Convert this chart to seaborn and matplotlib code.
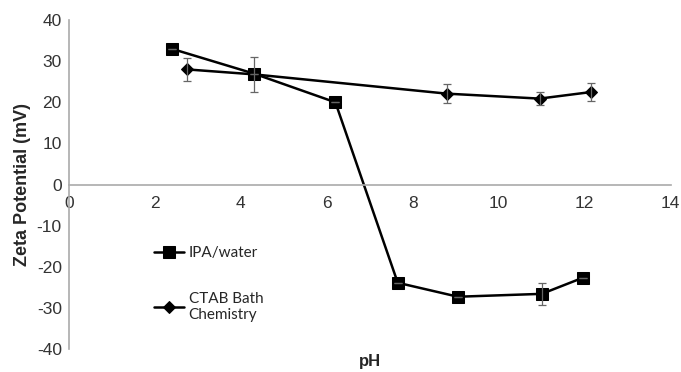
import matplotlib
matplotlib.use("Agg")
import matplotlib.pyplot as plt
import seaborn as sns
import pandas as pd

# IPA/water series
ipa_ph = [2.4, 4.3, 6.2, 7.65, 9.05, 11.0, 11.95]
ipa_zeta = [33.0, 27.0, 20.0, -23.9, -27.3, -26.6, -22.7]
ipa_err = [0, 0, 0, 0, 0, 2.7, 0]

# CTAB bath chemistry series
ctab_ph = [2.75, 4.3, 8.8, 10.95, 12.15]
ctab_zeta = [28.0, 26.8, 22.1, 20.9, 22.5]
ctab_err = [2.7, 4.2, 2.3, 1.5, 2.1]

x_ticks = [0, 2, 4, 6, 8, 10, 12, 14]
y_ticks = [-40, -30, -20, -10, 0, 10, 20, 30, 40]

df_ipa = pd.DataFrame({"pH": ipa_ph, "zeta": ipa_zeta})
df_ctab = pd.DataFrame({"pH": ctab_ph, "zeta": ctab_zeta})

sns.set_style("white")
plt.rcParams['font.family'] = ['Liberation Sans', 'DejaVu Sans']
plt.rcParams['axes.unicode_minus'] = False

fig = plt.figure(figsize=(6.81, 3.72), dpi=100)
ax = fig.add_axes([0.101, 0.062, 0.884, 0.884])

sns.lineplot(data=df_ipa, x="pH", y="zeta", ax=ax, color="black", marker="s",
             markersize=8, linewidth=1.8, markeredgecolor="black",
             label="IPA/water", sort=False)
sns.lineplot(data=df_ctab, x="pH", y="zeta", ax=ax, color="black", marker="D",
             markersize=6, linewidth=1.8, markeredgecolor="black",
             label="CTAB Bath\nChemistry", sort=False)

ax.errorbar(ipa_ph, ipa_zeta, yerr=ipa_err, fmt="none", ecolor="#666666",
            elinewidth=0.9, capsize=3, capthick=0.9)
ax.errorbar(ctab_ph, ctab_zeta, yerr=ctab_err, fmt="none", ecolor="#666666",
            elinewidth=0.9, capsize=3, capthick=0.9)

ax.set_xlim(0, 14)
ax.set_ylim(-40, 40)
ax.set_xticks(x_ticks)
ax.set_yticks(y_ticks)
ax.tick_params(axis="both", labelsize=12.5, length=3, width=0.8, direction="out")
ax.tick_params(axis="x", colors="#999999", labelcolor="#333333", pad=5)
ax.tick_params(axis="y", colors="#999999", labelcolor="#333333", pad=2)

ax.spines["bottom"].set_position(("data", 0))
ax.spines["top"].set_visible(False)
ax.spines["right"].set_visible(False)
for s in ["bottom", "left"]:
    ax.spines[s].set_color("#aaaaaa")
    ax.spines[s].set_linewidth(1.2)

ax.set_xlabel("")
ax.set_ylabel("Zeta Potential (mV)", fontsize=13, fontweight="bold", labelpad=4)
fig.text(0.543, 0.027, "pH", fontsize=12, fontweight="bold", ha="center", va="center")

leg = ax.legend(loc="upper left", bbox_to_anchor=(0.118, 0.355), frameon=False,
                handlelength=2.0, handletextpad=0.3, labelspacing=2.1,
                prop={"family": "Lato", "size": 11})

fig.savefig("out.png", dpi=100)
